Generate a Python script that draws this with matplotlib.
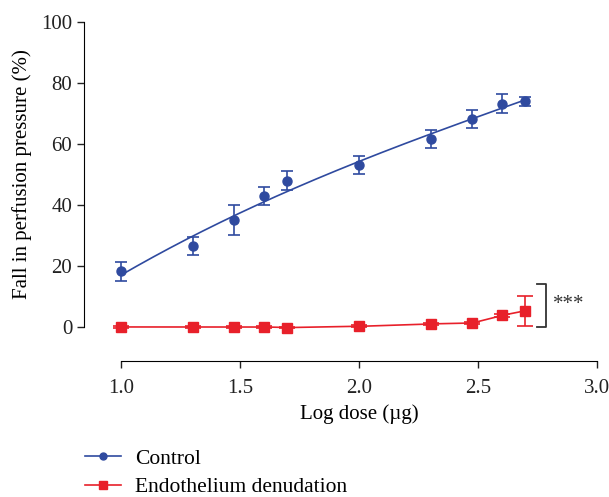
import numpy as np
import matplotlib.pyplot as plt

plt.rcParams['font.family'] = ['Liberation Serif', 'DejaVu Serif']

# log dose (10 ... 500 ug)
log_dose = np.log10([10, 20, 30, 40, 50, 100, 200, 300, 400, 500])

control = [18.2, 26.5, 35.0, 43.0, 48.0, 53.0, 61.5, 68.2, 73.2, 74.0]
control_err = [3.0, 3.0, 5.0, 3.0, 3.0, 3.0, 3.0, 3.0, 3.0, 1.5]

denuded = [0.0, 0.0, 0.0, 0.0, -0.2, 0.2, 1.0, 1.3, 3.8, 5.3]
denuded_err = [0.3, 0.3, 0.3, 0.3, 0.3, 0.3, 0.4, 0.4, 0.6, 5.0]

blue = '#2f4a9f'
red = '#e8202a'

fig = plt.figure(figsize=(6.09, 4.97), dpi=100)
ax = fig.add_axes([0.138, 0.274, 0.842, 0.682])

# fitted curves
xs = np.linspace(log_dose[0], log_dose[-1], 200)
ax.plot(xs, np.polyval(np.polyfit(log_dose, control, 3), xs), color=blue, lw=1.2)
ax.plot(xs, np.interp(xs, log_dose, denuded), color=red, lw=1.2)

ax.errorbar(log_dose, control, yerr=control_err, fmt='o', color=blue, ms=6.5,
            capsize=4, elinewidth=1.2, capthick=1.2)
ax.errorbar(log_dose, denuded, yerr=denuded_err, fmt='s', color=red, ms=7,
            capsize=5.5, elinewidth=1.2, capthick=1.2)

# legend handles
h1, = ax.plot([], [], '-o', color=blue, ms=5, lw=1.2, label='Control')
h2, = ax.plot([], [], '-s', color=red, ms=5.5, lw=1.2, label='Endothelium denudation')
fig.legend(handles=[h1, h2], loc='lower left', bbox_to_anchor=(0.125, -0.018),
           borderaxespad=0, frameon=False, fontsize=15.5, handlelength=1.7,
           handletextpad=0.65, labelspacing=0.4)

# significance bracket
ax.plot([2.75, 2.785, 2.785, 2.75], [14, 14, 0, 0], color='#333333', lw=1.3)
ax.text(2.815, 7.2, '***', fontsize=15, va='center', ha='left', color='#333333')

ax.set_xlim(0.845, 3.0)
ax.set_ylim(-11.1, 100)
ax.set_xticks([1.0, 1.5, 2.0, 2.5, 3.0])
ax.set_xticklabels(['1.0', '1.5', '2.0', '2.5', '3.0'])
ax.set_yticks([0, 20, 40, 60, 80, 100])
ax.spines['top'].set_visible(False)
ax.spines['right'].set_visible(False)
ax.spines['left'].set_bounds(0, 100)
ax.spines['bottom'].set_bounds(1.0, 3.0)
ax.tick_params(direction='out', length=5, width=1, labelsize=15, colors='#222222')
ax.tick_params(axis='x', pad=8)
ax.set_xlabel('Log dose (µg)', fontsize=15)
ax.set_ylabel('Fall in perfusion pressure (%)', fontsize=15)
ax.xaxis.set_label_coords(0.536, -0.128)
ax.yaxis.set_label_coords(-0.101, 0.552)

fig.savefig('out.png', dpi=100)
